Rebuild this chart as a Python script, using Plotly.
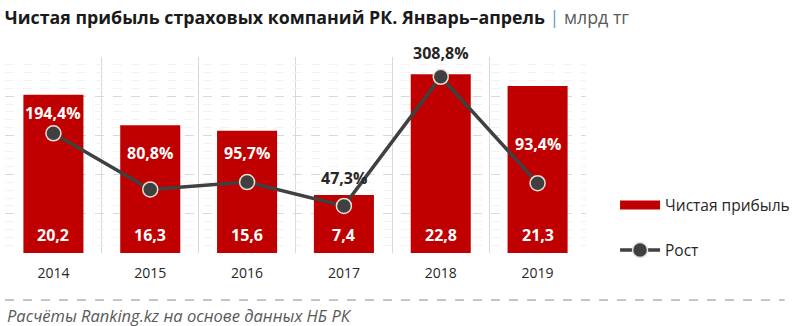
import plotly.graph_objects as go

years = ["2014", "2015", "2016", "2017", "2018", "2019"]
profit = [20.2, 16.3, 15.6, 7.4, 22.8, 21.3]
growth = [194.4, 80.8, 95.7, 47.3, 308.8, 93.4]
growth_label_colors = ["white", "white", "white", "#262626", "#262626", "white"]
growth_label_shift = [20, 36, 29, 28, 24, 39]

idx = list(range(len(years)))

RED = "#C00000"
DARK = "#404040"
FONT = "Open Sans"

fig = go.Figure()
fig.add_trace(go.Bar(
    x=idx, y=profit, name="Чистая прибыль",
    marker=dict(color=RED, line=dict(width=0)),
    width=0.62, showlegend=False,
))
# legend entry with a wide red swatch (no data drawn)
fig.add_trace(go.Scatter(
    x=[None], y=[None], name="Чистая прибыль", mode="lines",
    line=dict(color=RED, width=9), legendgroup="a",
))
fig.add_trace(go.Scatter(
    x=idx, y=growth, name="Рост", yaxis="y2", mode="lines+markers",
    line=dict(color=DARK, width=3.5),
    marker=dict(size=15, color=DARK, line=dict(color="#e8e0d8", width=1.5)),
    legendgroup="b", cliponaxis=False,
))

annotations = []
for i, v in zip(idx, profit):
    annotations.append(dict(
        x=i, y=0, xref="x", yref="y", yshift=18, showarrow=False,
        text="<b>" + f"{v:.1f}".replace(".", ",") + "</b>",
        font=dict(color="white", size=16, family=FONT),
    ))
for i, g, c, s in zip(idx, growth, growth_label_colors, growth_label_shift):
    annotations.append(dict(
        x=i, y=g, xref="x", yref="y2", yshift=s, showarrow=False,
        text="<b>" + f"{g:.1f}%".replace(".", ",") + "</b>",
        font=dict(color=c, size=16, family=FONT),
    ))
annotations.append(dict(
    x=0, y=-0.32, xref="paper", yref="paper", xanchor="left", yanchor="middle",
    showarrow=False, text="<i>Расчёты Ranking.kz на основе данных НБ РК</i>",
    font=dict(color="#595959", size=16.5, family=FONT),
))

fig.update_layout(
    width=800, height=326,
    margin=dict(l=5, r=210, t=57, b=73),
    paper_bgcolor="white", plot_bgcolor="white",
    separators=", ",
    showlegend=True,
    title=dict(
        text="<b>Чистая прибыль страховых компаний РК. Январь–апрель</b> "
             "<span style='color:#5b9bd5'>|</span> <span style='color:#595959'>млрд тг</span>",
        x=0.006, xanchor="left", y=0.945, yanchor="middle",
        font=dict(size=17.8, color="#1a1a1a", family=FONT),
    ),
    xaxis=dict(
        range=[-0.5, 5.5], tickvals=idx, ticktext=years, showgrid=False,
        minor=dict(tick0=-0.5, dtick=1, showgrid=True, gridcolor="#d9d9d9", gridwidth=1),
        showline=False, zeroline=False, ticks="", ticklabelstandoff=10,
        tickfont=dict(size=14, color="#262626", family=FONT),
    ),
    yaxis=dict(
        range=[0, 25], dtick=5, showgrid=True, gridcolor="#d9d9d9", griddash="dash", gridwidth=1,
        minor=dict(dtick=1, showgrid=True, gridcolor="#f2f2f2", gridwidth=1),
        showticklabels=False, zeroline=False, showline=False,
    ),
    yaxis2=dict(
        overlaying="y", range=[-48, 349], visible=False, showgrid=False,
    ),
    legend=dict(
        x=1.05, xanchor="left", y=0.33, yanchor="top",
        traceorder="grouped", tracegroupgap=22, itemwidth=40,
        font=dict(size=15.5, color="#262626", family=FONT),
        bgcolor="rgba(0,0,0,0)",
    ),
    annotations=annotations,
    shapes=[dict(
        type="line", xref="paper", yref="paper", x0=0, x1=1.342, y0=-0.24, y1=-0.24,
        line=dict(color="#8c8c8c", width=1, dash="dash"),
    )],
)

fig.write_html("out.html")
